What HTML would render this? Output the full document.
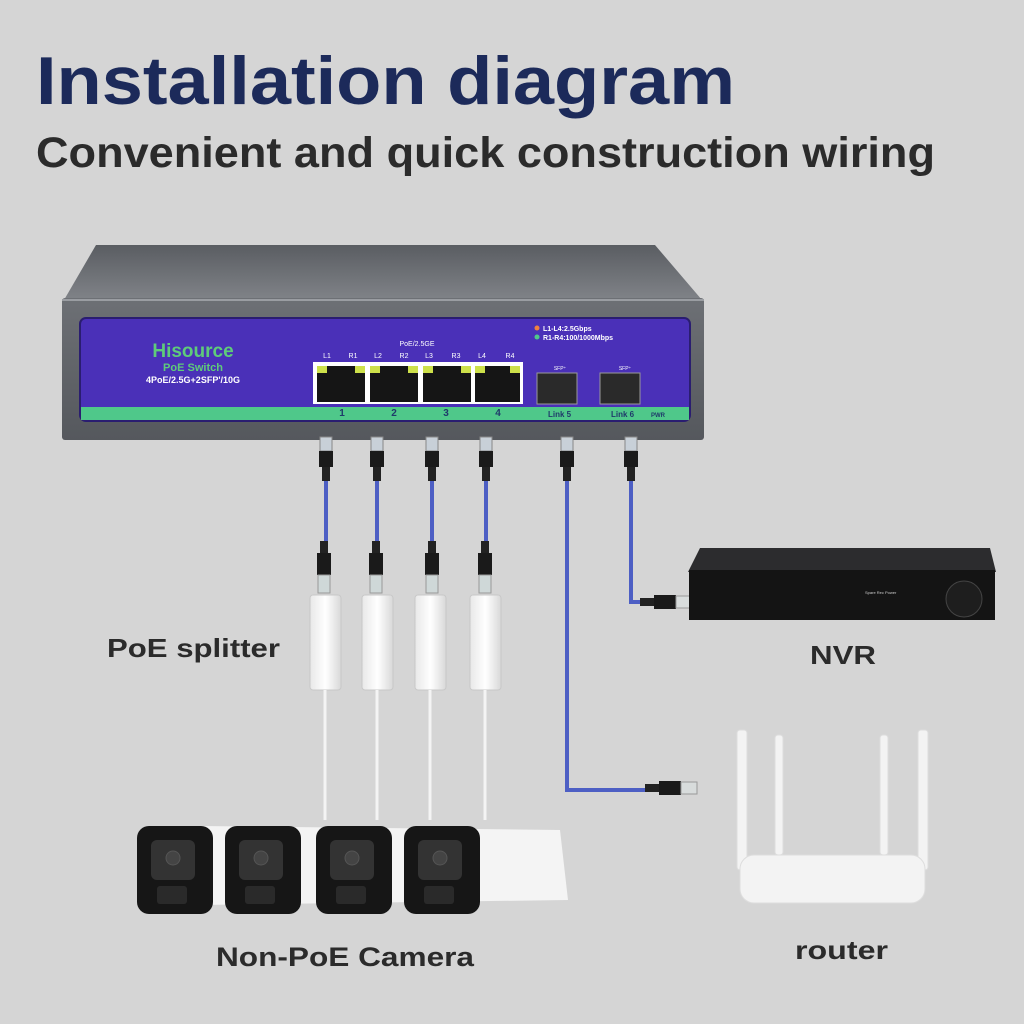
<!DOCTYPE html><html><head><style>body{margin:0}svg{display:block}</style></head><body>
<svg width="1024" height="1024" viewBox="0 0 1024 1024" xmlns="http://www.w3.org/2000/svg" font-family="Liberation Sans, sans-serif">
<defs>
<linearGradient id="top" x1="0" y1="0" x2="0" y2="1"><stop offset="0" stop-color="#5a5d62"/><stop offset="1" stop-color="#808388"/></linearGradient>
<linearGradient id="front" x1="0" y1="0" x2="0" y2="1"><stop offset="0" stop-color="#6d7075"/><stop offset="1" stop-color="#55585d"/></linearGradient>
<linearGradient id="spl" x1="0" y1="0" x2="1" y2="0"><stop offset="0" stop-color="#e8e8e8"/><stop offset=".5" stop-color="#fff"/><stop offset="1" stop-color="#d8d8d8"/></linearGradient>
<g id="plug"><rect x="-6" y="0" width="12" height="14" fill="#c8d0d8" stroke="#888" stroke-width="1"/><rect x="-7" y="14" width="14" height="16" fill="#1a1a1a"/><rect x="-4" y="30" width="8" height="14" fill="#222"/></g>
<g id="plugup"><rect x="-4" y="0" width="8" height="12" fill="#222"/><rect x="-7" y="12" width="14" height="22" fill="#1a1a1a"/><rect x="-6" y="34" width="12" height="18" fill="#cfd8d8" stroke="#999" stroke-width="1"/></g>
<g id="plugr"><rect x="0" y="-4" width="14" height="8" fill="#222"/><rect x="14" y="-7" width="22" height="14" fill="#1a1a1a"/><rect x="36" y="-6" width="16" height="12" fill="#d8dcdc" stroke="#999" stroke-width="1"/></g>
<g id="cam"><rect x="0" y="0" width="76" height="88" rx="12" fill="#161616"/><rect x="14" y="14" width="44" height="40" rx="6" fill="#333"/><circle cx="36" cy="32" r="7" fill="#444" stroke="#555"/><rect x="20" y="60" width="30" height="18" rx="3" fill="#2a2a2a"/></g>
</defs>
<rect width="1024" height="1024" fill="#d5d5d5"/>
<text x="36" y="104" font-size="68" font-weight="bold" fill="#1c2a5a" textLength="699" lengthAdjust="spacingAndGlyphs">Installation diagram</text>
<text x="36" y="167" font-size="43" font-weight="bold" fill="#2b2b2b" textLength="899" lengthAdjust="spacingAndGlyphs">Convenient and quick construction wiring</text>
<!-- switch -->
<polygon points="96,245 655,245 702,300 64,300" fill="url(#top)"/>
<rect x="62" y="298" width="642" height="142" rx="3" fill="url(#front)"/>
<line x1="62" y1="300" x2="704" y2="300" stroke="#9a9da2" stroke-width="2"/>
<rect x="80" y="318" width="610" height="103" rx="6" fill="#4a30b8" stroke="#2a1d70" stroke-width="2"/>
<rect x="81" y="407" width="608" height="13" fill="#4fc88a"/>
<text x="193" y="357" font-size="19" font-weight="bold" fill="#5ecb7a" text-anchor="middle">Hisource</text>
<text x="193" y="371" font-size="11" font-weight="bold" fill="#5ecb7a" text-anchor="middle">PoE Switch</text>
<text x="193" y="383" font-size="9" font-weight="bold" fill="#fff" text-anchor="middle">4PoE/2.5G+2SFP'/10G</text>
<text x="417" y="346" font-size="7" fill="#fff" text-anchor="middle">PoE/2.5GE</text>
<g font-size="7" fill="#fff" text-anchor="middle"><text x="327" y="358">L1</text><text x="353" y="358">R1</text><text x="378" y="358">L2</text><text x="404" y="358">R2</text><text x="429" y="358">L3</text><text x="456" y="358">R3</text><text x="482" y="358">L4</text><text x="510" y="358">R4</text></g>
<rect x="313" y="362" width="210" height="42" fill="#fff"/>
<g fill="#151515"><rect x="317" y="366" width="48" height="36"/><rect x="370" y="366" width="48" height="36"/><rect x="423" y="366" width="48" height="36"/><rect x="475" y="366" width="45" height="36"/></g>
<g fill="#cde04a"><rect x="317" y="366" width="10" height="7"/><rect x="355" y="366" width="10" height="7"/><rect x="370" y="366" width="10" height="7"/><rect x="408" y="366" width="10" height="7"/><rect x="423" y="366" width="10" height="7"/><rect x="461" y="366" width="10" height="7"/><rect x="475" y="366" width="10" height="7"/><rect x="510" y="366" width="10" height="7"/></g>
<g font-size="10" font-weight="bold" fill="#1f3a6a" text-anchor="middle"><text x="342" y="416">1</text><text x="394" y="416">2</text><text x="446" y="416">3</text><text x="498" y="416">4</text></g>
<circle cx="537" cy="328" r="2.5" fill="#f08040"/><circle cx="537" cy="337" r="2.5" fill="#4fc88a"/>
<text x="543" y="331" font-size="7" font-weight="bold" fill="#fff">L1-L4:2.5Gbps</text>
<text x="543" y="340" font-size="7" font-weight="bold" fill="#fff">R1-R4:100/1000Mbps</text>
<text x="560" y="370" font-size="5" fill="#fff" text-anchor="middle">SFP⁺</text><text x="625" y="370" font-size="5" fill="#fff" text-anchor="middle">SFP⁺</text>
<rect x="537" y="373" width="40" height="31" fill="#2a2a2a" stroke="#999"/><rect x="600" y="373" width="40" height="31" fill="#2a2a2a" stroke="#999"/>
<g font-size="8" font-weight="bold" fill="#1f3a6a"><text x="548" y="417">Link 5</text><text x="611" y="417">Link 6</text><text x="651" y="417" font-size="6">PWR</text></g>
<!-- cables -->
<g stroke="#4d5fc4" stroke-width="4" fill="none">
<line x1="326" y1="480" x2="326" y2="545"/><line x1="377" y1="480" x2="377" y2="545"/><line x1="432" y1="480" x2="432" y2="545"/><line x1="486" y1="480" x2="486" y2="545"/>
<polyline points="567,480 567,790 650,790"/><polyline points="631,480 631,602 648,602"/>
</g>
<g><use href="#plug" x="326" y="437"/><use href="#plug" x="377" y="437"/><use href="#plug" x="432" y="437"/><use href="#plug" x="486" y="437"/><use href="#plug" x="567" y="437"/><use href="#plug" x="631" y="437"/></g>
<g><use href="#plugup" x="324" y="541"/><use href="#plugup" x="376" y="541"/><use href="#plugup" x="432" y="541"/><use href="#plugup" x="485" y="541"/></g>
<use href="#plugr" x="640" y="602"/><use href="#plugr" x="645" y="788"/>
<!-- splitters -->
<g fill="url(#spl)" stroke="#c8c8c8">
<rect x="310" y="595" width="31" height="95" rx="3"/><rect x="362" y="595" width="31" height="95" rx="3"/><rect x="415" y="595" width="31" height="95" rx="3"/><rect x="470" y="595" width="31" height="95" rx="3"/></g>
<g stroke="#f4f4f4" stroke-width="3"><line x1="325" y1="690" x2="325" y2="820"/><line x1="377" y1="690" x2="377" y2="820"/><line x1="430" y1="690" x2="430" y2="820"/><line x1="485" y1="690" x2="485" y2="820"/></g>
<!-- cameras -->
<polygon points="200,826 560,830 568,900 200,905" fill="#f4f4f4"/>
<use href="#cam" x="137" y="826"/><use href="#cam" x="225" y="826"/><use href="#cam" x="316" y="826"/><use href="#cam" x="404" y="826"/>
<!-- NVR -->
<polygon points="700,548 990,548 996,572 688,572" fill="#2c2c2e"/>
<rect x="689" y="570" width="306" height="50" fill="#141414"/>
<circle cx="964" cy="599" r="18" fill="#1e1e1e" stroke="#444"/>
<text x="865" y="594" font-size="4" fill="#ccc">Spare Rec Power</text>
<!-- router -->
<g fill="#f3f3f3" stroke="#ddd"><rect x="737" y="730" width="10" height="140" rx="3"/><rect x="775" y="735" width="8" height="120" rx="3"/><rect x="880" y="735" width="8" height="120" rx="3"/><rect x="918" y="730" width="10" height="140" rx="3"/>
<rect x="740" y="855" width="185" height="48" rx="14"/></g>
<text x="107" y="657" font-size="26" font-weight="bold" fill="#2b2b2b" textLength="173" lengthAdjust="spacingAndGlyphs">PoE splitter</text>
<text x="810" y="664" font-size="26" font-weight="bold" fill="#2b2b2b" textLength="66" lengthAdjust="spacingAndGlyphs">NVR</text>
<text x="216" y="966" font-size="27" font-weight="bold" fill="#2b2b2b" textLength="258" lengthAdjust="spacingAndGlyphs">Non-PoE Camera</text>
<text x="795" y="959" font-size="26" font-weight="bold" fill="#2b2b2b" textLength="93" lengthAdjust="spacingAndGlyphs">router</text>
</svg></body></html>
